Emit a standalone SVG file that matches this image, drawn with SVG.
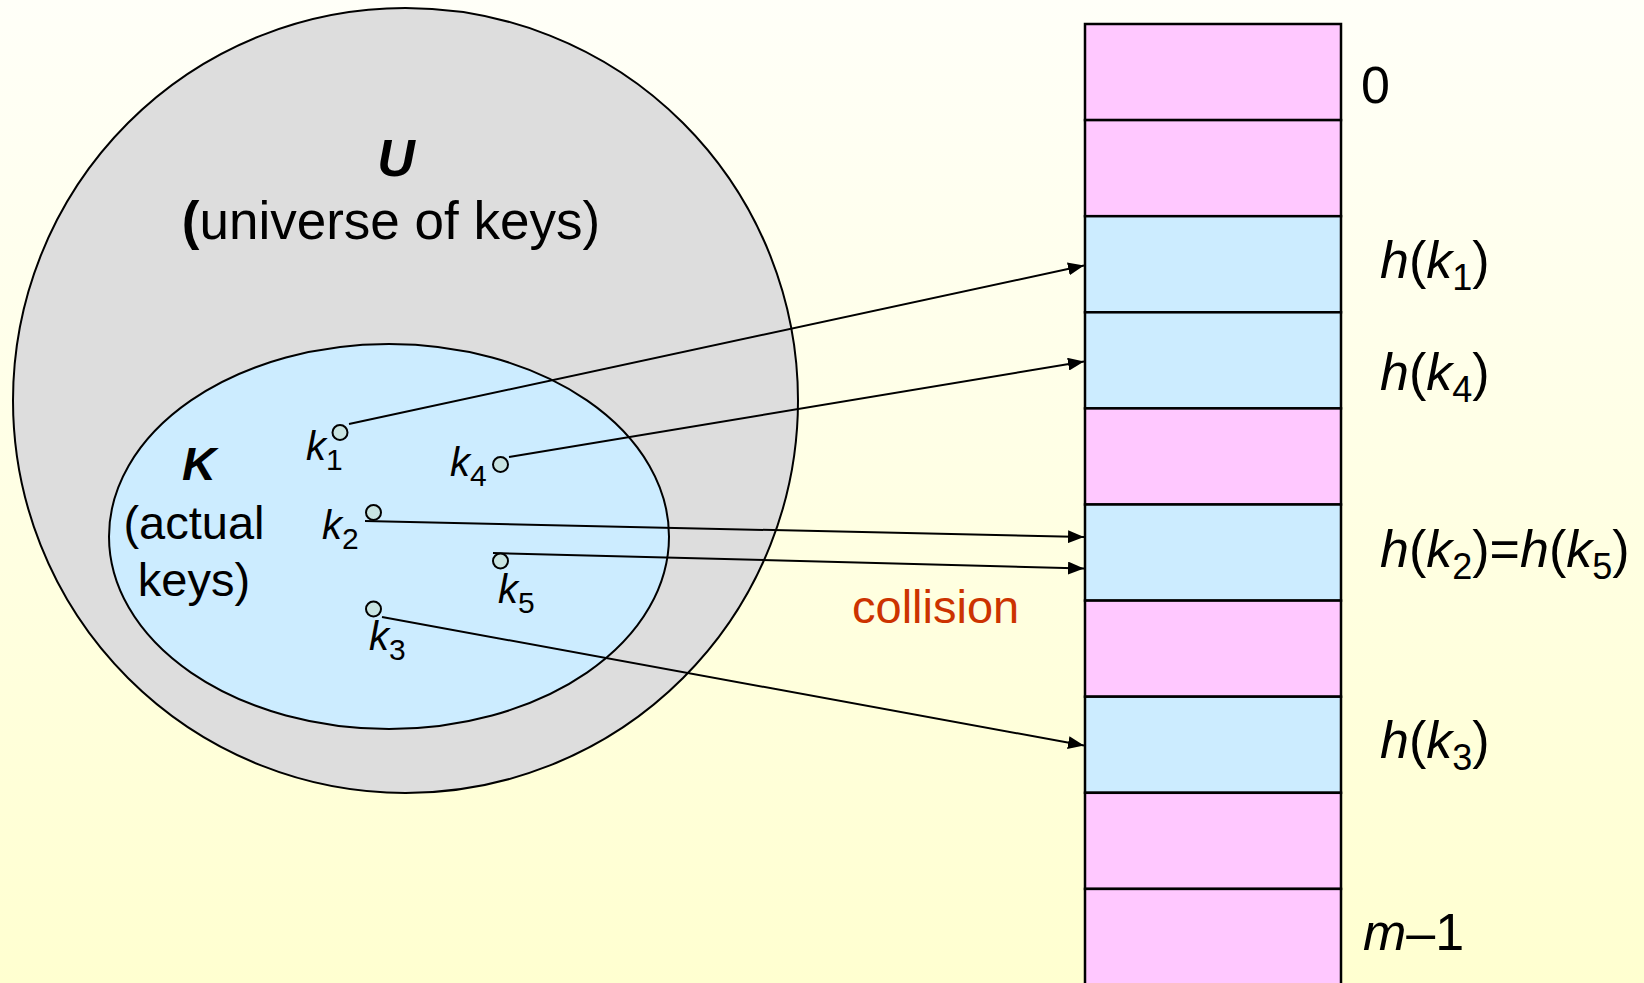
<svg xmlns="http://www.w3.org/2000/svg" width="1644" height="983" viewBox="0 0 1644 983">
  <defs>
    <linearGradient id="bg" x1="0" y1="0" x2="0" y2="1">
      <stop offset="0" stop-color="#FFFFF8"/>
      <stop offset="1" stop-color="#FFFFD0"/>
    </linearGradient>
    <marker id="arrow" viewBox="0 0 16 13" refX="16" refY="6.5" markerWidth="16" markerHeight="13" markerUnits="userSpaceOnUse" orient="auto">
      <path d="M0,0 L16,6.5 L0,13 z" fill="#000"/>
    </marker>
  </defs>
  <style>
    .txt { font-family: "Liberation Sans", Arial, sans-serif; fill: #000; }
    .big { font-size: 52px; }
    .mid { font-size: 47px; }
    .key { font-size: 40px; }
    .it { font-style: italic; }
    .bi { font-style: italic; font-weight: bold; }
    .set { stroke: #000; stroke-width: 2; }
    .slot { stroke: #000; stroke-width: 2.5; }
    .empty { fill: #FFC8FF; }
    .used { fill: #CCECFF; }
    .dot { fill: #C8E4E2; stroke: #000; stroke-width: 2; }
    .link { fill: none; stroke: #000; stroke-width: 2; marker-end: url(#arrow); }
  </style>

  <rect x="0" y="0" width="1644" height="983" fill="url(#bg)"/>

  <!-- universe of keys -->
  <g id="universe">
    <circle class="set" cx="405.5" cy="400.5" r="392.5" fill="#DDDDDD"/>
    <text class="txt big bi" x="396" y="176" text-anchor="middle">U</text>
    <text class="txt" font-size="53" x="391" y="239" text-anchor="middle"><tspan font-weight="bold">(</tspan>universe of keys)</text>
  </g>

  <!-- actual keys -->
  <g id="actual-keys">
    <ellipse class="set" cx="389" cy="536.5" rx="280" ry="192.5" fill="#CCECFF"/>
    <text class="txt mid bi" x="199" y="480" text-anchor="middle">K</text>
    <text class="txt mid" x="194" y="539" text-anchor="middle">(actual</text>
    <text class="txt mid" x="194" y="596" text-anchor="middle">keys)</text>
  </g>

  <!-- hash table slots 0 .. m-1 -->
  <g id="table">
    <rect id="slot-0" class="slot empty" x="1085" y="24" width="256" height="96.1"/>
    <rect id="slot-1" class="slot empty" x="1085" y="120.1" width="256" height="96.1"/>
    <rect id="slot-2" class="slot used" x="1085" y="216.2" width="256" height="96.1"/>
    <rect id="slot-3" class="slot used" x="1085" y="312.3" width="256" height="96.1"/>
    <rect id="slot-4" class="slot empty" x="1085" y="408.4" width="256" height="96.1"/>
    <rect id="slot-5" class="slot used" x="1085" y="504.5" width="256" height="96.1"/>
    <rect id="slot-6" class="slot empty" x="1085" y="600.6" width="256" height="96.1"/>
    <rect id="slot-7" class="slot used" x="1085" y="696.7" width="256" height="96.1"/>
    <rect id="slot-8" class="slot empty" x="1085" y="792.8" width="256" height="96.1"/>
    <rect id="slot-9" class="slot empty" x="1085" y="888.9" width="256" height="100"/>
  </g>

  <!-- slot labels -->
  <g id="slot-labels">
    <text class="txt big" x="1361" y="103">0</text>
    <text class="txt big" x="1380" y="278"><tspan class="it">h</tspan>(<tspan class="it">k</tspan><tspan font-size="36" dy="12">1</tspan><tspan dy="-12">)</tspan></text>
    <text class="txt big" x="1380" y="390"><tspan class="it">h</tspan>(<tspan class="it">k</tspan><tspan font-size="36" dy="12">4</tspan><tspan dy="-12">)</tspan></text>
    <text class="txt big" x="1380" y="567"><tspan class="it">h</tspan>(<tspan class="it">k</tspan><tspan font-size="36" dy="12">2</tspan><tspan dy="-12">)=</tspan><tspan class="it">h</tspan>(<tspan class="it">k</tspan><tspan font-size="36" dy="12">5</tspan><tspan dy="-12">)</tspan></text>
    <text class="txt big" x="1380" y="758"><tspan class="it">h</tspan>(<tspan class="it">k</tspan><tspan font-size="36" dy="12">3</tspan><tspan dy="-12">)</tspan></text>
    <text class="txt big" x="1363" y="950"><tspan class="it">m</tspan>–1</text>
  </g>

  <!-- hash mappings -->
  <g id="connectors">
    <path class="link" d="M349,424 L1084,265.5"/>
    <path class="link" d="M509,457 L1084,361.5"/>
    <path class="link" d="M365,521 L1084,537"/>
    <path class="link" d="M493,553 L1084,568.5"/>
    <path class="link" d="M382,617 L1084,745.5"/>
  </g>

  <g id="collision">
    <text class="txt mid" x="852" y="623" style="fill:#CC3300">collision</text>
  </g>

  <!-- keys -->
  <g id="k1">
    <circle class="dot" cx="340" cy="432.5" r="7.5"/>
    <text class="txt key it" x="306" y="460">k<tspan font-size="30" dy="10" font-style="normal">1</tspan></text>
  </g>
  <g id="k4">
    <circle class="dot" cx="500.5" cy="464.5" r="7.5"/>
    <text class="txt key it" x="450" y="476">k<tspan font-size="30" dy="10" font-style="normal">4</tspan></text>
  </g>
  <g id="k2">
    <circle class="dot" cx="373.5" cy="512.5" r="7.5"/>
    <text class="txt key it" x="322" y="539">k<tspan font-size="30" dy="10" font-style="normal">2</tspan></text>
  </g>
  <g id="k5">
    <circle class="dot" cx="500.5" cy="561" r="7.5"/>
    <text class="txt key it" x="498" y="603">k<tspan font-size="30" dy="10" font-style="normal">5</tspan></text>
  </g>
  <g id="k3">
    <circle class="dot" cx="373.5" cy="609" r="7.5"/>
    <text class="txt key it" x="369" y="650">k<tspan font-size="30" dy="10" font-style="normal">3</tspan></text>
  </g>
</svg>
